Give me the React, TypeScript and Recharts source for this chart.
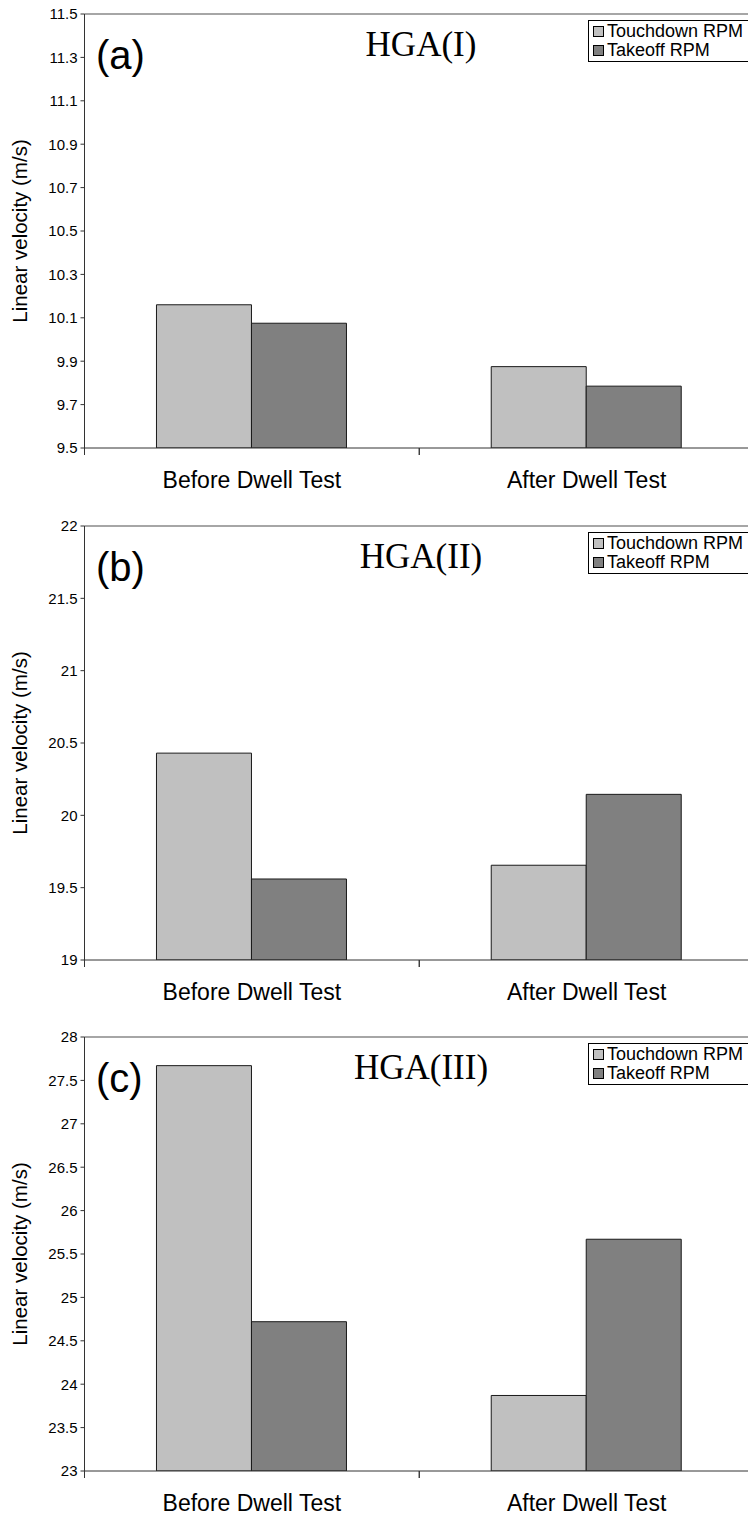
import React from 'react';
import { BarChart, Bar, XAxis, YAxis, ReferenceLine, Legend } from 'recharts';

const categories = ['Before Dwell Test', 'After Dwell Test'];
const seriesNames = ['Touchdown RPM', 'Takeoff RPM'];
const seriesColors = ['#c0c0c0', '#808080'];

// HGA(I)
const touchdownA = [10.16, 9.875];
const takeoffA = [10.075, 9.785];
const ticksA = [9.5, 9.7, 9.9, 10.1, 10.3, 10.5, 10.7, 10.9, 11.1, 11.3, 11.5];

// HGA(II)
const touchdownB = [20.43, 19.655];
const takeoffB = [19.56, 20.145];
const ticksB = [19, 19.5, 20, 20.5, 21, 21.5, 22];

// HGA(III)
const touchdownC = [27.67, 23.87];
const takeoffC = [24.72, 25.67];
const ticksC = [23, 23.5, 24, 24.5, 25, 25.5, 26, 26.5, 27, 27.5, 28];

const panels = [
  { tag: '(a)', title: 'HGA(I)', touchdown: touchdownA, takeoff: takeoffA, ticks: ticksA },
  { tag: '(b)', title: 'HGA(II)', touchdown: touchdownB, takeoff: takeoffB, ticks: ticksB },
  { tag: '(c)', title: 'HGA(III)', touchdown: touchdownC, takeoff: takeoffC, ticks: ticksC },
];

const SANS = 'Arial, "Liberation Sans", sans-serif';
const SERIF = '"Times New Roman", "Liberation Serif", serif';
const AXIS = '#333';

function CategoryTick(props: any) {
  const { x, y, payload } = props;
  const half = payload.offset ?? 0;
  return (
    <g>
      <line x1={x - half} y1={y} x2={x - half} y2={y + 7} stroke={AXIS} />
      <line x1={x + half} y1={y} x2={x + half} y2={y + 7} stroke={AXIS} />
      <text x={x} y={y + 40} textAnchor="middle" fontSize={23} fontFamily={SANS} fill="#000">
        {payload.value}
      </text>
    </g>
  );
}

function LegendBox(props: any) {
  // keep the series order of the source, not alphabetical
  const items = [...(props.payload || [])].sort(
    (a: any, b: any) => seriesNames.indexOf(a.value) - seriesNames.indexOf(b.value)
  );
  return (
    <div style={{ border: '1px solid #000', background: '#fff', padding: '1px 4px', fontFamily: SANS, fontSize: 18, color: '#000' }}>
      {items.map((it: any) => (
        <div key={it.value} style={{ display: 'flex', alignItems: 'center', height: 19, whiteSpace: 'nowrap' }}>
          <span style={{ display: 'inline-block', width: 9, height: 9, border: '1px solid #000', background: it.color, marginRight: 3 }} />
          {it.value}
        </div>
      ))}
    </div>
  );
}

function Panel({ p }: { p: (typeof panels)[number] }) {
  const data = categories.map((c, i) => ({ category: c, touchdown: p.touchdown[i], takeoff: p.takeoff[i] }));
  const lo = p.ticks[0];
  const hi = p.ticks[p.ticks.length - 1];
  return (
    <div style={{ position: 'relative', width: 754, height: 512 }}>
      <BarChart width={754} height={512} data={data} margin={{ top: 14, right: 0, bottom: 34, left: 0 }} barCategoryGap="21.5%" barGap={0}>
        <ReferenceLine y={hi} stroke="#a6a6a6" strokeWidth={2} />
        <XAxis dataKey="category" interval={0} height={30} tickSize={0} tickMargin={0} tickLine={false} axisLine={{ stroke: AXIS }} tick={<CategoryTick />} />
        <YAxis
          width={84.5}
          domain={[lo, hi]}
          ticks={p.ticks}
          interval={0}
          allowDataOverflow
          tickSize={4}
          tickMargin={3}
          axisLine={{ stroke: AXIS }}
          tickLine={{ stroke: AXIS }}
          tick={{ fontSize: 15, fontFamily: SANS, fill: '#000' }}
          tickFormatter={(v: number) => String(v)}
          label={{ value: 'Linear velocity (m/s)', angle: -90, position: 'center', dx: -23, fontSize: 20.5, fontFamily: SANS, fill: '#000' }}
        />
        <Legend
          layout="horizontal"
          verticalAlign="middle"
          align="center"
          wrapperStyle={{ left: 588, top: 20, width: 170 }}
          content={<LegendBox />}
        />
        <Bar dataKey="touchdown" name={seriesNames[0]} fill={seriesColors[0]} stroke="#1a1a1a" strokeWidth={1} isAnimationActive={false} />
        <Bar dataKey="takeoff" name={seriesNames[1]} fill={seriesColors[1]} stroke="#1a1a1a" strokeWidth={1} isAnimationActive={false} />
      </BarChart>
      <svg width={754} height={512} style={{ position: 'absolute', left: 0, top: 0, pointerEvents: 'none' }}>
        <text x={96} y={69} fontSize={40} fontFamily={SANS} fill="#000">{p.tag}</text>
        <text x={421} y={56} fontSize={35} fontFamily={SERIF} fill="#000" textAnchor="middle">{p.title}</text>
      </svg>
    </div>
  );
}

export default function App() {
  return (
    <div style={{ position: 'absolute', left: 0, top: 0, width: 748, height: 1520, overflow: 'hidden', background: '#fff' }}>
      {panels.map((p, i) => (
        <div key={p.tag} style={{ position: 'absolute', left: 0, top: Math.round(i * 511.7) }}>
          <Panel p={p} />
        </div>
      ))}
    </div>
  );
}
